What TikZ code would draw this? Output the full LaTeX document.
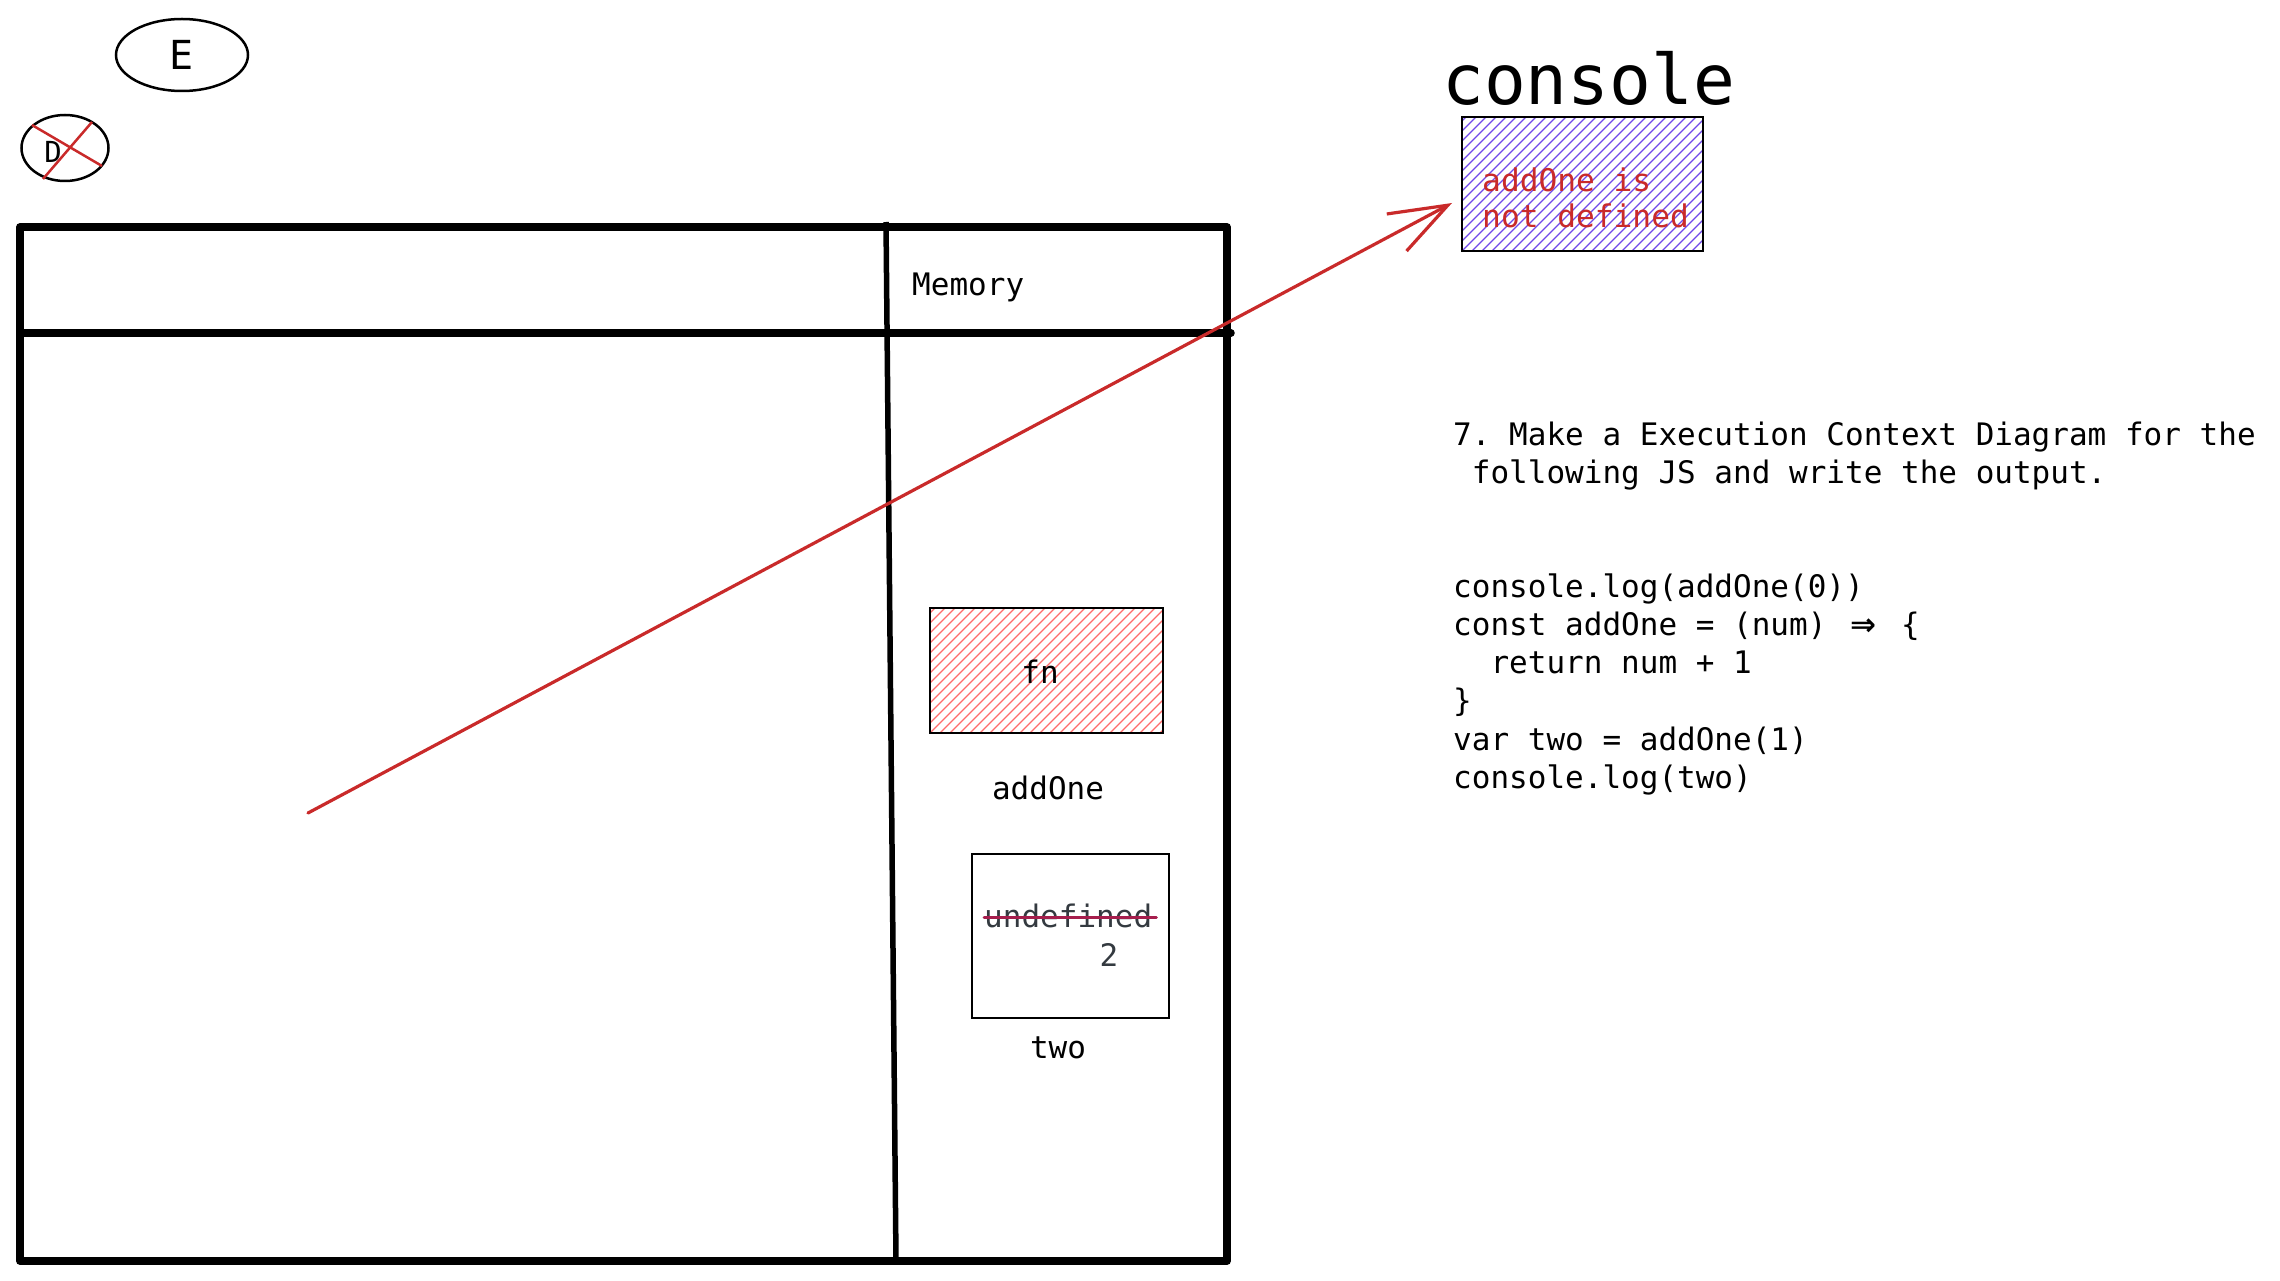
\documentclass[tikz,border=0pt]{standalone}
\usepackage{fontspec}
\setmainfont{DejaVu Sans Mono}
\newfontfamily\arrowfont{DejaVu Sans}
\usetikzlibrary{shapes.geometric,arrows.meta}
\definecolor{cred}{HTML}{C92A2A}
\definecolor{cpurple}{HTML}{7048E8}
\definecolor{fnred}{HTML}{FF6B6B}
\definecolor{cdark}{HTML}{343A40}
\definecolor{cstrike}{HTML}{A61E4D}
\begin{document}
\begin{tikzpicture}[x=1pt,y=-1pt,
  txt/.style={inner sep=0pt, anchor=base west, font=\fontsize{31}{38}\selectfont\frenchspacing},
  hatch/.style={path picture={\foreach \i in {-30,...,30}{\draw[#1, line width=1.3pt] ([xshift=\i*10pt]path picture bounding box.south west) -- ++(300pt,300pt);}}},
  thick frame/.style={line width=7.5pt, line cap=round, line join=round},
  thin box/.style={draw, line width=2pt, inner sep=0pt}
]
\useasboundingbox (0,0) rectangle (2280,1281);

% ellipses E and D
\node[draw, ellipse, line width=2.5pt, minimum width=132pt, minimum height=72pt, inner sep=0pt,
      font=\fontsize{40}{48}\selectfont] (enode) at (182,55) {E};
\node[draw, ellipse, line width=2.5pt, minimum width=87pt, minimum height=66pt, inner sep=0pt] (dnode) at (65,148) {};
\node[inner sep=0pt, font=\fontsize{29}{34}\selectfont] (dlabel) at (53,152) {D};
\coordinate (dx1) at (32,125); \coordinate (dx2) at (102,166);
\coordinate (dx3) at (43,179); \coordinate (dx4) at (92,122);
\draw[cred, line width=2.5pt] (dx1) -- (dx2);
\draw[cred, line width=2.5pt] (dx3) -- (dx4);

% main frame
\draw[thick frame] (20,227) rectangle (1227,1261);
\draw[thick frame] (20,333) -- (1231,333);
\draw[line width=5.5pt] (886,222) -- (896,1261);
\node[txt] (memory) at (912,295) {Memory};

% memory contents
\node[thin box, minimum width=233pt, minimum height=125pt, hatch=fnred] (fnbox) at (1046.5,670.5) {};
\node[txt, anchor=base] (fn) at (1040,683) {fn};
\node[txt, anchor=base] (addone) at (1048,799) {addOne};
\node[thin box, minimum width=197pt, minimum height=164pt] (twobox) at (1070.5,936) {};
\node[txt, text=cdark] (undef) at (984,927) {undefined};
\draw[cstrike, line width=3pt, line cap=round] (undef.west |- 0,917) -- ([xshift=4pt]undef.east |- 0,917);
\node[txt, anchor=base, text=cdark] (val2) at (1109,966) {2};
\node[txt, anchor=base] (two) at (1058,1058) {two};

% console
\node[inner sep=0pt, anchor=base west, font=\fontsize{69.5}{80}\selectfont] (title) at (1442,105) {console};
\node[draw, line width=1.8pt, minimum width=241pt, minimum height=134pt, inner sep=0pt, hatch=cpurple] (cbox) at (1582.5,184) {};
\node[txt, text=cred, font=\fontsize{31.2}{36}\selectfont] (msg1) at (1482,192) {addOne is};
\node[txt, text=cred, font=\fontsize{31.2}{36}\selectfont] (msg2) at (1482,228) {not defined};

% arrow
\coordinate (arrS) at (308,813);
\coordinate (arrE) at (1452,203);
\draw[cred, line width=3.2pt, line cap=round, line join=round, -{Straight Barb[length=58pt,width=42pt]}] (arrS) -- (arrE);

% question
\node[txt] (q1) at (1453,445) {7. Make a Execution Context Diagram for the};
\node[txt] (q2) at (1453,483) {\hspace*{0.602em}following JS and write the output.};

% code
\node[txt] (c1) at (1453,597) {console.log(addOne(0))};
\node[txt] (c2) at (1453,635) {const addOne = (num) \makebox[1.204em]{\arrowfont\bfseries ⇒} \{};
\node[txt] (c3) at (1453,673) {\hspace*{1.204em}return num + 1};
\node[txt] (c4) at (1453,711) {\}};
\node[txt] (c5) at (1453,750) {var two = addOne(1)};
\node[txt] (c6) at (1453,788) {console.log(two)};
\end{tikzpicture}
\end{document}
